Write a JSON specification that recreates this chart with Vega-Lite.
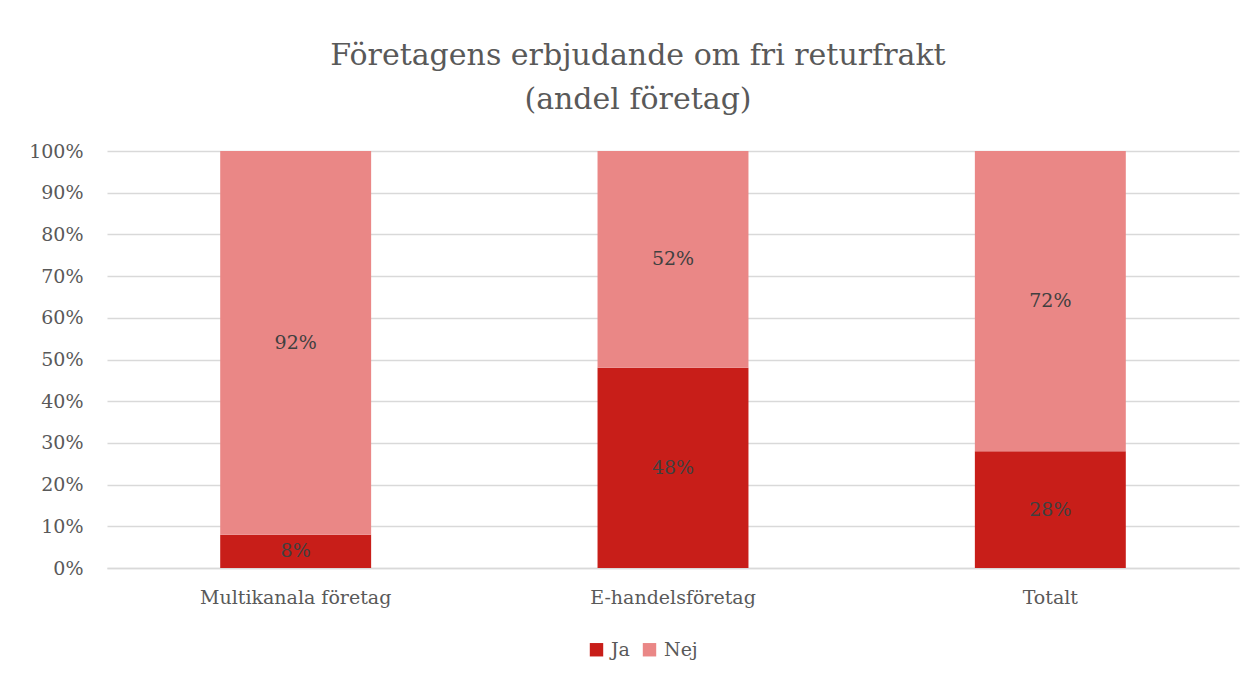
{
  "$schema": "https://vega.github.io/schema/vega-lite/v6.json",
  "autosize": "none",
  "width": 1132,
  "height": 417,
  "padding": {"left": 107, "top": 151, "right": 16, "bottom": 112},
  "background": "white",
  "config": {
    "view": {"stroke": null},
    "font": "DejaVu Serif"
  },
  "title": {
    "text": ["Företagens erbjudande om fri returfrakt", "(andel företag)"],
    "font": "DejaVu Serif",
    "fontSize": 30,
    "fontWeight": "normal",
    "color": "#595959",
    "anchor": "middle",
    "dx": -35,
    "offset": 27,
    "lineHeight": 44
  },
  "data": {
    "values": [
      {"kategori": "Multikanala företag", "svar": "Ja", "andel": 0.08},
      {"kategori": "Multikanala företag", "svar": "Nej", "andel": 0.92},
      {"kategori": "E-handelsföretag", "svar": "Ja", "andel": 0.48},
      {"kategori": "E-handelsföretag", "svar": "Nej", "andel": 0.52},
      {"kategori": "Totalt", "svar": "Ja", "andel": 0.28},
      {"kategori": "Totalt", "svar": "Nej", "andel": 0.72}
    ]
  },
  "encoding": {
    "x": {
      "field": "kategori",
      "type": "nominal",
      "sort": ["Multikanala företag", "E-handelsföretag", "Totalt"],
      "scale": {"paddingInner": 0.6, "paddingOuter": 0.3},
      "axis": {
        "title": null,
        "labelAngle": 0,
        "labelLimit": 0,
        "labelFont": "DejaVu Serif",
        "labelFontSize": 19,
        "labelColor": "#595959",
        "labelPadding": 20,
        "domain": true,
        "domainColor": "#d9d9d9",
        "domainWidth": 1.5,
        "ticks": false
      }
    },
    "order": {"field": "svar", "sort": "ascending"}
  },
  "layer": [
    {
      "mark": {"type": "bar"},
      "encoding": {
        "y": {
          "field": "andel",
          "type": "quantitative",
          "stack": "zero",
          "scale": {"domain": [0, 1]},
          "axis": {
            "title": null,
            "format": ".0%",
            "values": [0, 0.1, 0.2, 0.3, 0.4, 0.5, 0.6, 0.7, 0.8, 0.9, 1],
            "labelOverlap": false,
            "labelFont": "DejaVu Serif",
            "labelFontSize": 19,
            "labelColor": "#595959",
            "labelPadding": 24,
            "domain": false,
            "ticks": false,
            "grid": true,
            "gridColor": "#d9d9d9",
            "gridWidth": 1.5
          }
        },
        "color": {
          "field": "svar",
          "type": "nominal",
          "scale": {"domain": ["Ja", "Nej"], "range": ["#C81E19", "#EA8786"]},
          "legend": {
            "title": null,
            "orient": "none",
            "direction": "horizontal",
            "legendX": 480,
            "legendY": 489,
            "symbolType": "square",
            "symbolSize": 180,
            "symbolStrokeWidth": 0,
            "labelFont": "DejaVu Serif",
            "labelFontSize": 19,
            "labelColor": "#595959",
            "columnPadding": 10,
            "labelOffset": 5
          }
        }
      }
    },
    {
      "mark": {"type": "text", "font": "DejaVu Serif", "fontSize": 19, "color": "#404040", "baseline": "middle"},
      "encoding": {
        "y": {"field": "andel", "type": "quantitative", "stack": "zero", "bandPosition": 0.5},
        "text": {"field": "andel", "type": "quantitative", "format": ".0%"},
        "detail": {"field": "svar", "type": "nominal"}
      }
    }
  ]
}
